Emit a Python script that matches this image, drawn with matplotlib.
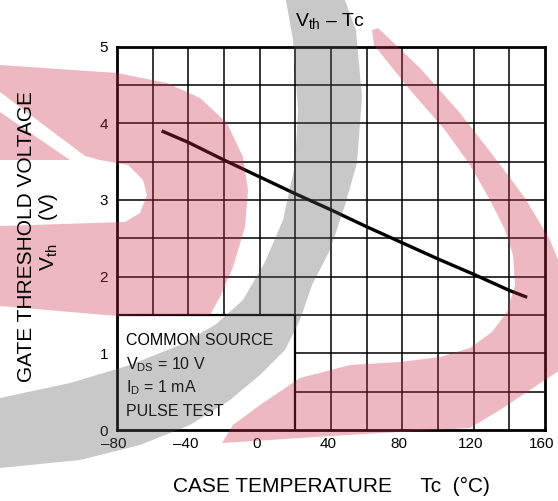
import matplotlib
matplotlib.use('Agg')
import matplotlib.pyplot as plt
from matplotlib.patches import PathPatch, Polygon
from matplotlib.path import Path
from matplotlib.transforms import Affine2D, ScaledTranslation

plt.rcParams['font.family'] = ['Liberation Sans', 'DejaVu Sans']
plt.rcParams['mathtext.fontset'] = 'custom'
plt.rcParams['mathtext.rm'] = 'Liberation Sans'
plt.rcParams['mathtext.it'] = 'Liberation Sans:italic'
plt.rcParams['mathtext.bf'] = 'Liberation Sans:bold'

# ---------------- data ----------------
temp_c = [-55, -40, -20, 0, 20, 40, 60, 80, 100, 120, 140, 150]
vth_v = [3.90, 3.75, 3.52, 3.30, 3.08, 2.87, 2.65, 2.44, 2.23, 2.03, 1.82, 1.73]

x_ticks = [-80, -40, 0, 40, 80, 120, 160]
x_tick_labels = ['–80', '–40', '0', '40', '80', '120', '160']
y_ticks = [0, 1, 2, 3, 4, 5]
y_tick_labels = ['0', '1', '2', '3', '4', '5']
x_grid = [-60, -40, -20, 0, 20, 40, 60, 80, 100, 120, 140]
y_grid = [0.5, 1.0, 1.5, 2.0, 2.5, 3.0, 3.5, 4.0, 4.5]

note_lines = ['COMMON SOURCE', 'V$_{\\mathrm{DS}}$ = 10 V', 'I$_{\\mathrm{D}}$ = 1 mA', 'PULSE TEST']
title_text = 'V$_{\\mathrm{th}}$ – Tc'
xlabel_text = 'CASE TEMPERATURE     Tc  (°C)'
ylabel_line1 = 'GATE THRESHOLD VOLTAGE'
ylabel_line2 = 'V$_{\\mathrm{th}}$    (V)'

# ---------------- layout ----------------
W, H = 558, 501
fig = plt.figure(figsize=(W / 100, H / 100), dpi=100, facecolor='white')
L, R, T, B = 117, 545, 46.5, 430
ax = fig.add_axes([L / W, 1 - B / H, (R - L) / W, (B - T) / H])
ax.set_facecolor('white')
ax.set_xlim(-80, 160)
ax.set_ylim(0, 5)

box_x = (-80, 20)
box_y = (0, 1.5)

grid_lw = 1.1
for xg in x_grid:
    ymin = box_y[1] if xg < box_x[1] else 0
    ax.vlines(xg, ymin, 5, colors='black', linewidth=grid_lw, zorder=1)
for yg in y_grid:
    xmin = box_x[1] if yg < box_y[1] else -80
    ax.hlines(yg, xmin, 160, colors='black', linewidth=grid_lw, zorder=1)
# note box edges
ax.hlines(box_y[1], box_x[0], box_x[1], colors='black', linewidth=1.6, zorder=2)
ax.vlines(box_x[1], box_y[0], box_y[1], colors='black', linewidth=1.6, zorder=2)

ax.plot(temp_c, vth_v, color='black', linewidth=2.4, solid_capstyle='butt', zorder=3)

for s in ax.spines.values():
    s.set_linewidth(2.0)
    s.set_color('black')

ax.set_xticks(x_ticks)
ax.set_xticklabels(x_tick_labels)
ax.set_yticks(y_ticks)
ax.set_yticklabels(y_tick_labels)
ax.tick_params(axis='both', length=0, labelsize=11, colors='black')
ax.tick_params(axis='x', pad=5)
ax.tick_params(axis='y', pad=6.5)
shift = ScaledTranslation(-3 / 100, 0, fig.dpi_scale_trans)
for lab in ax.get_xticklabels():
    lab.set_transform(lab.get_transform() + shift)

# note text in box
line_y_px = [345, 369, 392, 416]
for txt, ypx in zip(note_lines, line_y_px):
    fig.text(126 / W, 1 - ypx / H, txt, fontsize=11.5, ha='left', va='baseline',
             color='black', zorder=0.5)

# titles / labels (figure text)
fig.text(330 / W, 1 - 26 / H, title_text, fontsize=14, ha='center', va='baseline')
fig.text(331 / W, 1 - 492 / H, xlabel_text, fontsize=15, ha='center', va='baseline')
fig.text(32 / W, 1 - 236 / H, ylabel_line1, fontsize=15, rotation=90,
         rotation_mode='anchor', ha='center', va='baseline')
fig.text(54 / W, 1 - 232 / H, ylabel_line2, fontsize=15, rotation=90,
         rotation_mode='anchor', ha='center', va='baseline')

# ---------------- watermark (decorative overlay) ----------------
px = Affine2D().scale(1 / W, -1 / H).translate(0, 1) + fig.transFigure

grey_outer = [(343, -5), (356, 30), (362, 97), (357, 163), (345, 205), (330, 250),
              (312, 285), (300, 320), (285, 350), (260, 375), (230, 400), (190, 425),
              (140, 445), (80, 460), (0, 468), (-10, 470)]
grey_inner = [(-10, 398), (0, 398), (70, 383), (130, 365), (180, 345), (215, 325),
              (243, 300), (265, 262), (283, 220), (295, 165), (298, 110), (293, 40),
              (285, -5)]
fig.patches.append(Polygon(grey_outer + grey_inner, closed=True, transform=px,
                           facecolor=(0.35, 0.35, 0.35), alpha=0.33, edgecolor='none',
                           zorder=1))

red = (0.80, 0.16, 0.28)
d_outer = [(-10, 65), (0, 65), (117, 73), (167, 83), (200, 98), (227, 123), (243, 157),
           (248, 190), (245, 227), (233, 267), (220, 297), (210, 315), (117, 316),
           (0, 306), (-10, 306)]
d_hole = [(-10, 87), (0, 92), (85, 156), (100, 160), (128, 165), (143, 180), (147, 195),
          (140, 213), (125, 222), (0, 226), (-10, 226), (-10, 160), (70, 160), (0, 112),
          (-10, 107)]


def signed_area(pts):
    a = 0.0
    for i in range(len(pts)):
        x1, y1 = pts[i]
        x2, y2 = pts[(i + 1) % len(pts)]
        a += x1 * y2 - x2 * y1
    return a / 2


if signed_area(d_outer) * signed_area(d_hole) > 0:
    d_hole = d_hole[::-1]
verts = d_outer + [d_outer[0]] + d_hole + [d_hole[0]]
codes = ([Path.MOVETO] + [Path.LINETO] * (len(d_outer) - 1) + [Path.CLOSEPOLY] +
         [Path.MOVETO] + [Path.LINETO] * (len(d_hole) - 1) + [Path.CLOSEPOLY])
fig.patches.append(PathPatch(Path(verts, codes), transform=px, facecolor=red,
                             alpha=0.33, edgecolor='none', zorder=1))

cres_outer = [(378, 28), (420, 68), (460, 113), (495, 158), (525, 198), (550, 240),
              (570, 290), (575, 340), (560, 370), (530, 390), (500, 410), (470, 428),
              (400, 432), (330, 436), (270, 440), (222, 443)]
cres_inner = [(233, 425), (260, 405), (300, 378), (350, 365), (400, 362), (440, 357),
              (470, 348), (492, 332), (507, 312), (515, 285), (513, 255), (505, 230),
              (490, 200), (470, 165), (445, 130), (410, 90), (390, 65), (374, 45),
              (372, 30)]
fig.patches.append(Polygon(cres_outer + cres_inner, closed=True, transform=px,
                           facecolor=red, alpha=0.33, edgecolor='none', zorder=1))

fig.savefig('out.png', dpi=100, facecolor='white')
